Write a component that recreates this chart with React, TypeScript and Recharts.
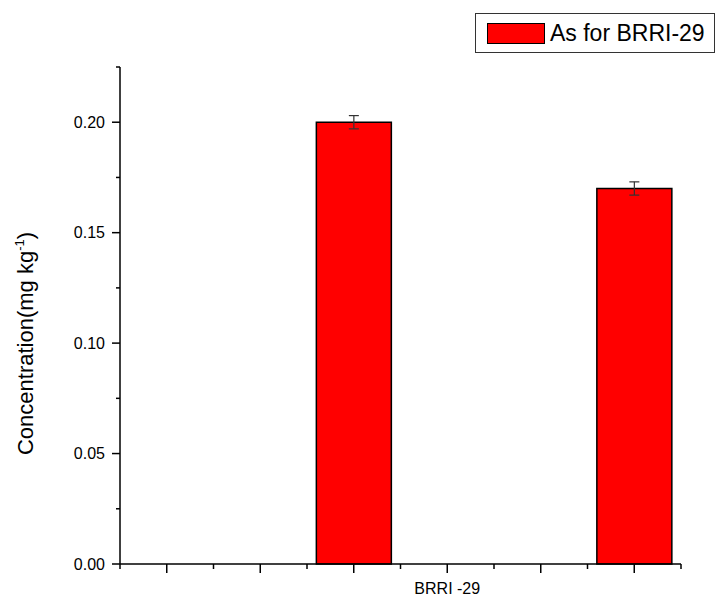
import React from "react";
import { BarChart, Bar, XAxis, YAxis, ErrorBar, Legend } from "recharts";

const categories = ["G1", "G2", "G3", "G4", "G5", "G6"];
const tickLabels = ["", "", "", "BRRI -29", "", ""];
const values: (number | null)[] = [null, null, 0.2, null, null, 0.17];
const errors: (number | null)[] = [null, null, 0.003, null, null, 0.003];
const yTicks = [0, 0.025, 0.05, 0.075, 0.1, 0.125, 0.15, 0.175, 0.2, 0.225];
const seriesName = "As for BRRI-29";

const data = categories.map((c, i) => ({
  cat: c,
  label: tickLabels[i],
  value: values[i],
  err: errors[i],
}));

const FONT = "'Liberation Sans', Arial, sans-serif";

const YTick = (props: any) => {
  const { x, y, payload, index } = props;
  const major = index % 2 === 0;
  return (
    <g>
      <line x1={x - (major ? 8 : 4)} x2={x} y1={y} y2={y} stroke="#000" strokeWidth={1.5} />
      {major && (
        <text
          x={x - 15}
          y={y}
          textAnchor="end"
          dominantBaseline="central"
          fontFamily={FONT}
          fontSize={16}
          fill="#000"
        >
          {Number(payload.value).toFixed(2)}
        </text>
      )}
    </g>
  );
};

const XTick = (props: any) => {
  const { x, y, payload, index } = props;
  const off = payload && payload.offset ? payload.offset : 46.75;
  const last = index === categories.length - 1;
  const lbl = tickLabels[index] || "";
  return (
    <g>
      <line x1={x} x2={x} y1={y} y2={y + 9} stroke="#000" strokeWidth={1.5} />
      <line x1={x - off} x2={x - off} y1={y} y2={y + 5} stroke="#000" strokeWidth={1.5} />
      {last && <line x1={x + off} x2={x + off} y1={y} y2={y + 5} stroke="#000" strokeWidth={1.5} />}
      {lbl && (
        <text x={x} y={y + 30} textAnchor="middle" fontFamily={FONT} fontSize={16} fill="#000">
          {lbl}
        </text>
      )}
    </g>
  );
};

const YLabel = (props: any) => {
  const vb = props.viewBox || { x: 60, y: 67, width: 60, height: 497 };
  const cx = vb.x - 27;
  const cy = vb.y + vb.height / 2 + 28;
  return (
    <text
      x={cx}
      y={cy}
      transform={`rotate(-90, ${cx}, ${cy})`}
      textAnchor="middle"
      fontFamily={FONT}
      fontSize={22}
      fill="#000"
    >
      <tspan>Concentration(mg kg</tspan>
      <tspan dy={-9} fontSize={13}>-1</tspan>
      <tspan dy={9} fontSize={22}>)</tspan>
    </text>
  );
};

const LegendBox = () => (
  <div
    style={{
      boxSizing: "border-box",
      width: 240,
      height: 40,
      border: "1px solid #333",
      background: "#fff",
      display: "flex",
      alignItems: "center",
      fontFamily: FONT,
      fontSize: 23,
      color: "#000",
      whiteSpace: "nowrap",
    }}
  >
    <div
      style={{
        boxSizing: "border-box",
        width: 58,
        height: 21,
        marginLeft: 11,
        marginRight: 5,
        background: "#ff0000",
        border: "1px solid #000",
        flexShrink: 0,
      }}
    />
    <span>{seriesName}</span>
  </div>
);

export default function App() {
  return (
    <div style={{ position: "absolute", left: 0, top: 0, background: "#fff" }}>
      <BarChart
        width={715}
        height={597}
        data={data}
        margin={{ top: 67, right: 34, bottom: 3, left: 60 }}
        barCategoryGap="10%"
      >
        <XAxis
          dataKey="cat"
          height={30}
          interval={0}
          tickSize={0}
          tickMargin={0}
          tickLine={false}
          axisLine={{ stroke: "#000", strokeWidth: 1.5 }}
          tick={<XTick />}
        />
        <YAxis
          width={60}
          domain={[0, 0.225]}
          ticks={yTicks}
          interval={0}
          tickSize={0}
          tickMargin={0}
          tickLine={false}
          axisLine={{ stroke: "#000", strokeWidth: 1.5 }}
          tick={<YTick />}
          label={<YLabel />}
        />
        <Legend
          layout="horizontal"
          verticalAlign="middle"
          align="center"
          wrapperStyle={{ position: "absolute", left: 475, top: 13, width: 240, height: 40 }}
          content={<LegendBox />}
        />
        <Bar
          dataKey="value"
          name={seriesName}
          fill="#ff0000"
          stroke="#000"
          strokeWidth={1.5}
          isAnimationActive={false}
        >
          <ErrorBar dataKey="err" width={5} stroke="#333" strokeWidth={1.2} direction="y" />
        </Bar>
      </BarChart>
    </div>
  );
}
